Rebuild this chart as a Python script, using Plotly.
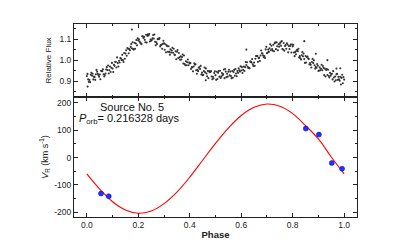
import plotly.graph_objects as go
from plotly.subplots import make_subplots

# ---------------- Light curve (top panel) ----------------
flux_phase_a = [round(0.01 * i, 4) for i in range(100)]
flux_a = [
    0.925, 0.906, 0.926, 0.920, 0.945, 0.932, 0.948, 0.930, 0.953, 0.970,
    0.960, 0.992, 0.986, 1.010, 1.000, 1.031, 1.054, 1.063, 1.052, 1.079,
    1.093, 1.079, 1.105, 1.120, 1.117, 1.092, 1.102, 1.085, 1.099, 1.073,
    1.080, 1.070, 1.039, 1.046, 1.027, 1.040, 1.013, 1.015, 0.982, 0.990,
    0.984, 0.966, 0.979, 0.954, 0.958, 0.929, 0.942, 0.949, 0.944, 0.921,
    0.929, 0.940, 0.916, 0.934, 0.946, 0.945, 0.925, 0.944, 0.937, 0.961,
    0.951, 0.970, 0.977, 0.964, 0.989, 0.989, 1.020, 1.012, 1.033, 1.019,
    1.033, 1.056, 1.053, 1.080, 1.066, 1.078, 1.053, 1.067, 1.074, 1.067,
    1.065, 1.039, 1.042, 1.009, 1.018, 1.020, 1.009, 0.978, 0.986, 0.967,
    0.949, 0.959, 0.963, 0.954, 0.925, 0.934, 0.918, 0.933, 0.909, 0.916,
]
flux_phase_b = [round(0.01 * i + 0.005, 4) for i in range(100)]
flux_b = [
    0.909, 0.931, 0.909, 0.933, 0.930, 0.950, 0.933, 0.956, 0.937, 0.964,
    0.978, 0.965, 0.997, 1.001, 1.034, 1.021, 1.052, 1.056, 1.082, 1.070,
    1.088, 1.113, 1.096, 1.115, 1.088, 1.103, 1.087, 1.099, 1.065, 1.077,
    1.075, 1.040, 1.051, 1.035, 1.042, 1.010, 1.018, 0.984, 0.995, 0.976,
    0.958, 0.970, 0.952, 0.964, 0.932, 0.948, 0.937, 0.948, 0.923, 0.939,
    0.945, 0.922, 0.939, 0.915, 0.936, 0.928, 0.949, 0.926, 0.949, 0.946,
    0.939, 0.967, 0.969, 0.993, 0.980, 1.007, 0.992, 1.022, 1.022, 1.051,
    1.050, 1.047, 1.073, 1.052, 1.075, 1.068, 1.081, 1.054, 1.067, 1.036,
    1.036, 1.045, 1.012, 1.023, 1.005, 1.015, 0.980, 0.991, 0.976, 0.982,
    0.966, 0.952, 0.960, 0.930, 0.940, 0.909, 0.923, 0.907, 0.921, 0.891,
]
flux_phase_c = [round(0.01 * i + 0.0025, 4) for i in range(100)]
flux_c = [
    0.935, 0.896, 0.936, 0.907, 0.936, 0.910, 0.957, 0.937, 0.975, 0.944,
    0.944, 0.991, 0.970, 1.008, 0.991, 1.047, 1.033, 1.076, 1.050, 1.095,
    1.099, 1.076, 1.110, 1.083, 1.124, 1.095, 1.121, 1.077, 1.104, 1.054,
    1.049, 1.066, 1.026, 1.059, 1.024, 1.048, 1.002, 1.027, 0.976, 1.003,
    0.986, 0.947, 0.981, 0.948, 0.973, 0.931, 0.961, 0.915, 0.948, 0.914,
    0.907, 0.949, 0.923, 0.956, 0.920, 0.955, 0.915, 0.954, 0.924, 0.952,
    0.967, 0.949, 0.990, 0.962, 1.005, 0.973, 1.019, 0.996, 1.031, 1.010,
    1.036, 1.075, 1.045, 1.085, 1.047, 1.084, 1.050, 1.072, 1.037, 1.074,
    1.073, 1.028, 1.054, 1.003, 1.031, 0.989, 1.005, 0.965, 0.999, 0.964,
    0.951, 0.978, 0.929, 0.958, 0.918, 0.936, 0.899, 0.935, 0.903, 0.931,
]
flux_phase_d = [round(0.01 * i + 0.0075, 4) for i in range(100)]
flux_d = [
    0.897, 0.940, 0.922, 0.954, 0.922, 0.949, 0.923, 0.967, 0.952, 0.987,
    0.973, 1.013, 0.989, 1.025, 1.007, 1.057, 1.047, 1.085, 1.054, 1.103,
    1.082, 1.113, 1.085, 1.122, 1.098, 1.119, 1.070, 1.102, 1.072, 1.092,
    1.037, 1.066, 1.036, 1.054, 1.004, 1.034, 1.003, 1.022, 0.976, 0.989,
    0.966, 0.985, 0.936, 0.968, 0.941, 0.965, 0.924, 0.943, 0.910, 0.947,
    0.911, 0.950, 0.929, 0.958, 0.922, 0.946, 0.917, 0.958, 0.940, 0.971,
    0.954, 0.991, 0.963, 0.994, 0.972, 1.020, 1.009, 1.046, 1.014, 1.063,
    1.039, 1.068, 1.042, 1.084, 1.064, 1.090, 1.045, 1.080, 1.053, 1.074,
    1.019, 1.049, 1.019, 1.038, 0.987, 1.017, 0.986, 1.006, 0.960, 0.974,
    0.952, 0.972, 0.923, 0.955, 0.926, 0.948, 0.905, 0.921, 0.885, 0.920,
]
outlier_phase = [0.003, 0.175, 0.462, 0.620, 0.845, 0.890, 0.935, 0.970, 0.985, 1.000]
outlier_flux = [0.875, 1.145, 0.905, 1.050, 1.090, 1.030, 1.000, 0.960, 0.962, 0.908]

# ---------------- Radial velocities (bottom panel) ----------------
rv_phase = [0.055, 0.085, 0.851, 0.902, 0.952, 0.992]
rv_vel = [-132, -142, 106, 84, -20, -41]

fit_phase = [0.00, 0.05, 0.10, 0.15, 0.20, 0.25, 0.30, 0.35, 0.40, 0.45, 0.50,
             0.55, 0.60, 0.65, 0.70, 0.75, 0.80, 0.85, 0.90, 0.95, 1.00]
fit_vel = [-60, -116, -162, -192, -204, -196, -169, -127, -72, -10, 52,
           108, 154, 184, 196, 188, 161, 117, 68, 2, -60]

x_ticks = [0.0, 0.2, 0.4, 0.6, 0.8, 1.0]
x_tick_labels = ["0.0", "0.2", "0.4", "0.6", "0.8", "1.0"]
flux_ticks = [0.9, 1.0, 1.1]
flux_tick_labels = ["0.9", "1.0", "1.1"]
rv_ticks = [-200, -100, 0, 100, 200]
rv_tick_labels = ["-200", "-100", "0", "100", "200"]

FONT = "Liberation Sans, Arial, sans-serif"
INK = "#222222"

fig = make_subplots(rows=2, cols=1, shared_xaxes=False, vertical_spacing=0,
                    row_heights=[0.378, 0.622])

all_ph = flux_phase_a + flux_phase_b + flux_phase_c + flux_phase_d + outlier_phase
all_fl = flux_a + flux_b + flux_c + flux_d + outlier_flux
fig.add_trace(go.Scatter(x=all_ph, y=all_fl, mode="markers",
                         marker=dict(size=2.1, color="#333333"),
                         showlegend=False, hoverinfo="skip"), row=1, col=1)

fig.add_trace(go.Scatter(x=fit_phase, y=fit_vel, mode="lines",
                         line=dict(color="#ff0000", width=1.1, shape="spline"),
                         showlegend=False), row=2, col=1)
fig.add_trace(go.Scatter(x=rv_phase, y=rv_vel, mode="markers",
                         marker=dict(size=5, color="#1f35ff",
                                     line=dict(color="#0000b0", width=0.5)),
                         showlegend=False), row=2, col=1)

axis_common = dict(showline=True, linecolor=INK, linewidth=1, mirror="ticks",
                   ticks="inside", ticklen=4, tickwidth=1, tickcolor=INK,
                   showgrid=False, zeroline=False, automargin=False,
                   tickfont=dict(family=FONT, size=8.5, color=INK))

fig.update_xaxes(range=[-0.05, 1.05], tickvals=x_ticks, ticktext=x_tick_labels,
                 minor=dict(ticks="inside", tickvals=[0.1, 0.3, 0.5, 0.7, 0.9],
                            ticklen=2, tickcolor=INK),
                 **axis_common)
fig.update_xaxes(showticklabels=False, row=1, col=1)
fig.update_xaxes(title=dict(text="<b>Phase</b>", font=dict(family=FONT, size=9.5, color=INK),
                            standoff=2), row=2, col=1)

fig.update_yaxes(range=[0.826, 1.171], tickvals=flux_ticks, ticktext=flux_tick_labels,
                 minor=dict(ticks="inside", tickvals=[0.85, 0.95, 1.05, 1.15], ticklen=2,
                            tickcolor=INK),
                 title=dict(text="Relative Flux", font=dict(family=FONT, size=8, color=INK),
                            standoff=6),
                 row=1, col=1, **axis_common)
fig.update_yaxes(range=[-218, 222], tickvals=rv_ticks, ticktext=rv_tick_labels,
                 minor=dict(ticks="inside", tickvals=[-150, -50, 50, 150], ticklen=2,
                            tickcolor=INK),
                 title=dict(text="<i>V</i><sub>R</sub> (km s<sup>-1</sup>)",
                            font=dict(family=FONT, size=9, color=INK), standoff=4),
                 row=2, col=1, **axis_common)

fig.add_annotation(xref="x2 domain", yref="y2 domain", x=0.085, y=0.985, yanchor="top",
                   xanchor="left", showarrow=False,
                   text="Source No. 5", font=dict(family=FONT, size=11, color="#111111"))
fig.add_annotation(xref="x2 domain", yref="y2 domain", x=0.01, y=0.895, yanchor="top",
                   xanchor="left", showarrow=False,
                   text="<i>P</i><sub>orb</sub>= 0.216328 days",
                   font=dict(family=FONT, size=11, color="#111111"))

fig.update_layout(width=415, height=242, margin=dict(l=74, r=58, t=24, b=25),
                  paper_bgcolor="white", plot_bgcolor="white",
                  font=dict(family=FONT, size=8))

fig.write_html("out.html", config={"displayModeBar": False},
               post_script="document.body.style.margin='0';document.body.style.overflow='hidden';")
